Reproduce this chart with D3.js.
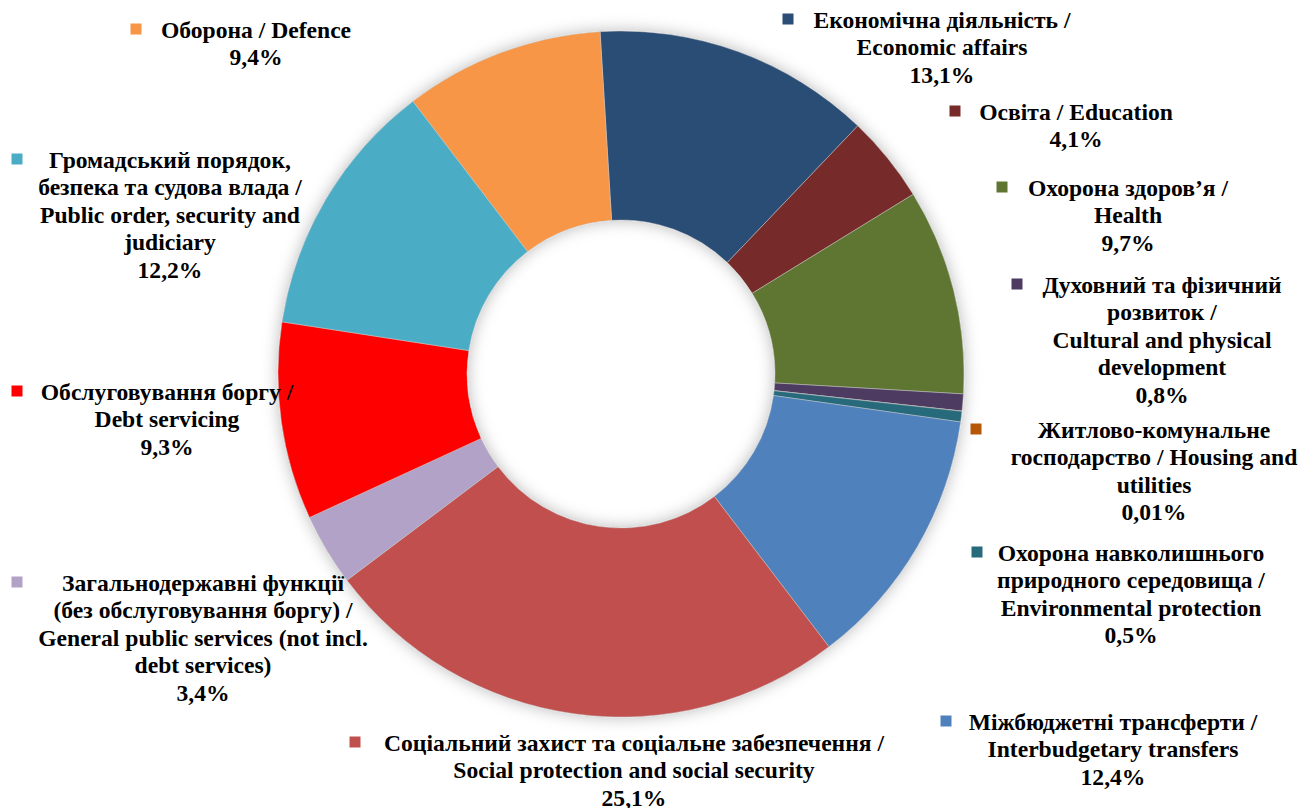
<!DOCTYPE html>
<html>
<head>
<meta charset="utf-8">
<script src="https://cdn.jsdelivr.net/npm/d3@7"></script>
<style>
  html, body { margin: 0; padding: 0; background: #fff; }
  svg { display: block; }
</style>
</head>
<body>
<svg id="chart" width="1309" height="808"></svg>
<script>
// ---- Data ----
const categories = [
  ["Економічна діяльність /", "Economic affairs"],
  ["Освіта / Education"],
  ["Охорона здоров’я /", "Health"],
  ["Духовний та фізичний", "розвиток /", "Cultural and physical", "development"],
  ["Житлово-комунальне", "господарство / Housing and", "utilities"],
  ["Охорона навколишнього", "природного середовища /", "Environmental protection"],
  ["Міжбюджетні трансферти /", "Interbudgetary transfers"],
  ["Соціальний захист та соціальне забезпечення /", "Social protection and social security"],
  ["Загальнодержавні функції", "(без обслуговування боргу) /", "General public services (not incl.", "debt services)"],
  ["Обслуговування боргу /", "Debt servicing"],
  ["Громадський порядок,", "безпека та судова влада /", "Public order, security and", "judiciary"],
  ["Оборона / Defence"]
];
const values = [13.1, 4.1, 9.7, 0.8, 0.01, 0.5, 12.4, 25.1, 3.4, 9.3, 12.2, 9.4];
const valueLabels = ["13,1%", "4,1%", "9,7%", "0,8%", "0,01%", "0,5%", "12,4%", "25,1%", "3,4%", "9,3%", "12,2%", "9,4%"];
const colors = ["#2C4D75", "#772C2A", "#5F7530", "#4D3B62", "#B65708", "#276A7C",
                "#4F81BD", "#C0504D", "#B3A2C7", "#FF0000", "#4BACC6", "#F79646"];

// ---- Layout (label anchors: text centre x, first-line centre y, marker x) ----
const labelLayout = [
  [942, 20, 788], [1076, 112, 955], [1128, 188, 1002], [1162, 285, 1017],
  [1154, 430, 976], [1131, 553, 977], [1113, 722, 946], [634, 743, 355],
  [203, 583, 17], [167, 392, 17], [170, 160, 17], [256, 30, 136]
];

const svg = d3.select("#chart");
const cx = 621, cy = 374, outerR = 343, innerR = 154;
const startAngle = -3.5 * Math.PI / 180;

const defs = svg.append("defs");
const f = defs.append("filter").attr("id", "glow")
  .attr("x", "-20%").attr("y", "-20%").attr("width", "140%").attr("height", "140%");
f.append("feDropShadow").attr("dx", 0).attr("dy", 0).attr("stdDeviation", 8)
  .attr("flood-color", "#000").attr("flood-opacity", 0.28);

const pie = d3.pie().sort(null).value(d => d)
  .startAngle(startAngle).endAngle(startAngle + 2 * Math.PI);
const arc = d3.arc().innerRadius(innerR).outerRadius(outerR);

const g = svg.append("g").attr("transform", `translate(${cx},${cy})`);
const slices = g.append("g").attr("filter", "url(#glow)");
slices.selectAll("path").data(pie(values)).join("path")
  .attr("d", arc)
  .attr("fill", (d, i) => colors[i])
  .attr("stroke", "rgba(200,200,200,0.7)")
  .attr("stroke-width", 0.7);

// ---- Labels ----
const fontSize = 23.6, lineH = 27.5;
const fontFamily = "'Liberation Serif', Tinos, 'Times New Roman', serif";
const labels = svg.append("g");
categories.forEach((lines, i) => {
  const [tx, ty, mx] = labelLayout[i];
  const allLines = lines.concat([valueLabels[i]]);
  const t = labels.append("text")
    .attr("text-anchor", "middle")
    .attr("font-family", fontFamily)
    .attr("font-weight", "bold")
    .attr("font-size", fontSize)
    .attr("fill", "#000");
  allLines.forEach((ln, j) => {
    t.append("tspan").attr("x", tx).attr("y", ty + j * lineH + 7.5).text(ln);
  });
  labels.append("rect").attr("x", mx - 5.5).attr("y", ty - 6.5).attr("width", 11).attr("height", 11)
    .attr("fill", colors[i]);
});
</script>
</body>
</html>
